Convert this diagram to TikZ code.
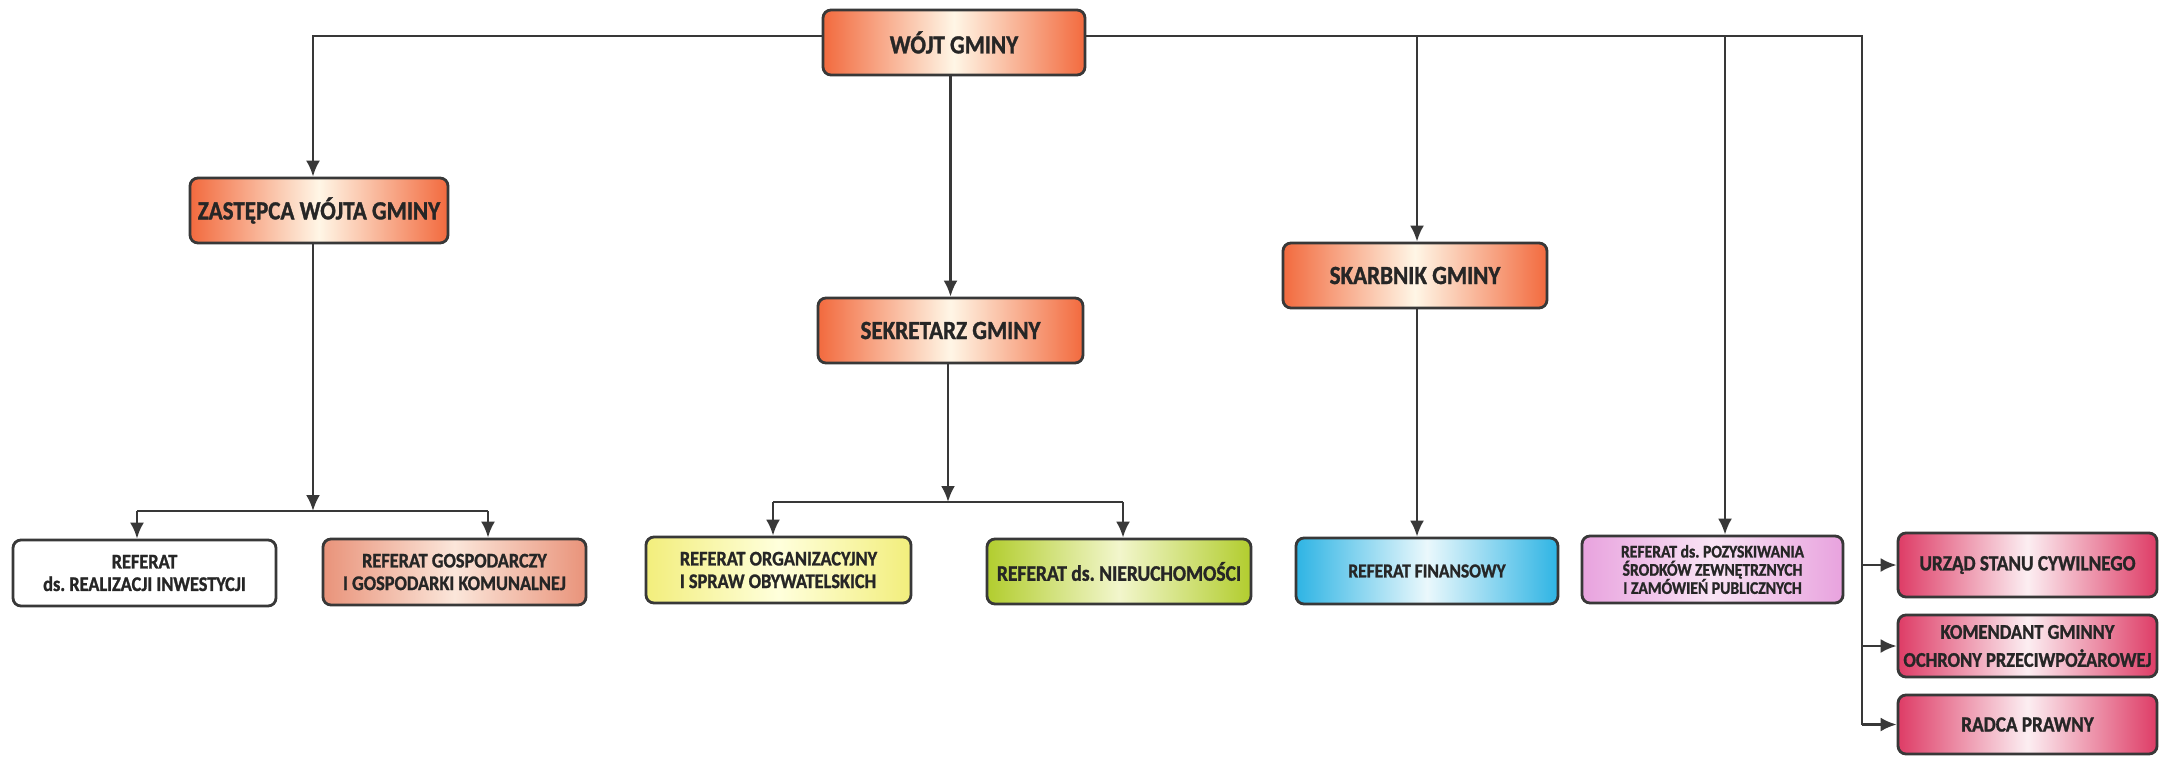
\documentclass[tikz,border=0pt]{standalone}
\usepackage{fontspec}
\setmainfont{Carlito}[FakeStretch=0.88,BoldFeatures={FakeBold=1.2}]
\usetikzlibrary{arrows.meta}
\frenchspacing
\definecolor{edgec}{HTML}{383838}
\definecolor{txtc}{HTML}{262626}
\definecolor{orgE}{HTML}{F26A3E}
\definecolor{orgM}{HTML}{FFF6E6}
\definecolor{salE}{HTML}{E9937A}
\definecolor{salM}{HTML}{FBE6DA}
\definecolor{yelE}{HTML}{F2EE7C}
\definecolor{yelM}{HTML}{FFFFDC}
\definecolor{grnE}{HTML}{B2CD2E}
\definecolor{grnM}{HTML}{F2F6CC}
\definecolor{bluE}{HTML}{2EB4E4}
\definecolor{bluM}{HTML}{EAF8FC}
\definecolor{pnkE}{HTML}{E8A2DE}
\definecolor{pnkM}{HTML}{F9E4F5}
\definecolor{crmE}{HTML}{DE3C66}
\definecolor{crmM}{HTML}{FCEEF2}
\begin{document}
\begin{tikzpicture}[x=0.5pt,y=-0.5pt,
  box/.style={draw=edgec,line width=1.4pt,rounded corners=4pt,align=center,inner sep=0pt,text=txtc},
  hdr/.style={box,left color=orgE,right color=orgE,middle color=orgM,font=\bfseries\fontsize{13.1}{14}\selectfont},
  low/.style={box,font=\bfseries\fontsize{10.4}{11.3}\selectfont},
  arr/.style={draw=edgec,line width=1.3pt,-{Latex[length=8pt,width=7pt]}},
  ln/.style={draw=edgec,line width=1.3pt}]
\fill[white] (0,0) rectangle (2162,756);
\useasboundingbox (0,0) rectangle (2162,756);

% header nodes
\node[hdr,minimum width=131pt,minimum height=32.5pt] (wojt) at (954,42.5) {WÓJT GMINY};
\node[hdr,minimum width=129pt,minimum height=32.5pt] (zast) at (319,210.5) {ZASTĘPCA WÓJTA GMINY};
\node[hdr,minimum width=132.5pt,minimum height=32.5pt] (sekr) at (950.5,330.5) {SEKRETARZ GMINY};
\node[hdr,minimum width=132pt,minimum height=32.5pt] (skarb) at (1415,275.5) {SKARBNIK GMINY};

% bottom row
\node[low,fill=white,minimum width=131.5pt,minimum height=33pt] (r1) at (144.5,573) {REFERAT\\ds. REALIZACJI INWESTYCJI};
\node[low,left color=salE,right color=salE,middle color=salM,minimum width=131.5pt,minimum height=33pt] (r2) at (454.5,572) {REFERAT GOSPODARCZY\\I GOSPODARKI KOMUNALNEJ};
\node[low,left color=yelE,right color=yelE,middle color=yelM,minimum width=132.5pt,minimum height=33pt,align=left] (r3) at (778.5,570) {REFERAT ORGANIZACYJNY\\I SPRAW OBYWATELSKICH};
\node[low,left color=grnE,right color=grnE,middle color=grnM,minimum width=132pt,minimum height=32.5pt,font=\bfseries\fontsize{11.1}{12}\selectfont] (r4) at (1119,571.5) {REFERAT ds. NIERUCHOMOŚCI};
\node[low,left color=bluE,right color=bluE,middle color=bluM,minimum width=131pt,minimum height=33pt,font=\bfseries\fontsize{9.9}{11}\selectfont] (r5) at (1427,571) {REFERAT FINANSOWY};
\node[low,left color=pnkE,right color=pnkE,middle color=pnkM,minimum width=130.5pt,minimum height=33.5pt,font=\bfseries\fontsize{8.9}{9.1}\selectfont] (r6) at (1712.5,569.5) {REFERAT ds. POZYSKIWANIA\\ŚRODKÓW ZEWNĘTRZNYCH\\I ZAMÓWIEŃ PUBLICZNYCH};

% right column
\node[low,left color=crmE,right color=crmE,middle color=crmM,minimum width=129.5pt,minimum height=32pt,font=\bfseries\fontsize{10.9}{12}\selectfont] (u1) at (2027.5,565) {URZĄD STANU CYWILNEGO};
\node[low,left color=crmE,right color=crmE,middle color=crmM,minimum width=129.5pt,minimum height=31pt,font=\bfseries\fontsize{10.5}{14}\selectfont] (u2) at (2027.5,646) {KOMENDANT GMINNY\\OCHRONY PRZECIWPOŻAROWEJ};
\node[low,left color=crmE,right color=crmE,middle color=crmM,minimum width=129.5pt,minimum height=29.5pt,font=\bfseries\fontsize{10.9}{12}\selectfont] (u3) at (2027.5,724.5) {RADCA PRAWNY};

% helper coordinates
\coordinate (tl) at (313,36);
\coordinate (tr) at (1862,36);
\coordinate (zb) at (313,511);
\coordinate (zbl) at (137,511);
\coordinate (zbr) at (488,511);
\coordinate (sb) at (948,502);
\coordinate (sbl) at (773,502);
\coordinate (sbr) at (1123,502);
\coordinate (skx) at (1417,36);
\coordinate (pkx) at (1725,36);

% connectors from WÓJT
\draw[arr] (wojt.west |- tl) -- (tl) -- (tl |- zast.north);
\draw[arr] (sekr.north |- wojt.south) -- (sekr.north);
\draw[ln] (wojt.east |- tr) -- (tr) -- (tr |- u3.west);
\draw[arr] (skx) -- (skx |- skarb.north);
\draw[arr] (pkx) -- (pkx |- r6.north);
\draw[arr] (tr |- u1.west) -- (u1.west);
\draw[arr] (tr |- u2.west) -- (u2.west);
\draw[arr] (tr |- u3.west) -- (u3.west);

% ZASTĘPCA branch
\draw[arr] (zb |- zast.south) -- (zb);
\draw[ln] (zbl) -- (zbr);
\draw[arr] (zbl) -- (zbl |- r1.north);
\draw[arr] (zbr) -- (zbr |- r2.north);

% SEKRETARZ branch
\draw[arr] (sb |- sekr.south) -- (sb);
\draw[ln] (sbl) -- (sbr);
\draw[arr] (sbl) -- (sbl |- r3.north);
\draw[arr] (sbr) -- (sbr |- r4.north);

% SKARBNIK
\draw[arr] (skx |- skarb.south) -- (skx |- r5.north);
\end{tikzpicture}
\end{document}
